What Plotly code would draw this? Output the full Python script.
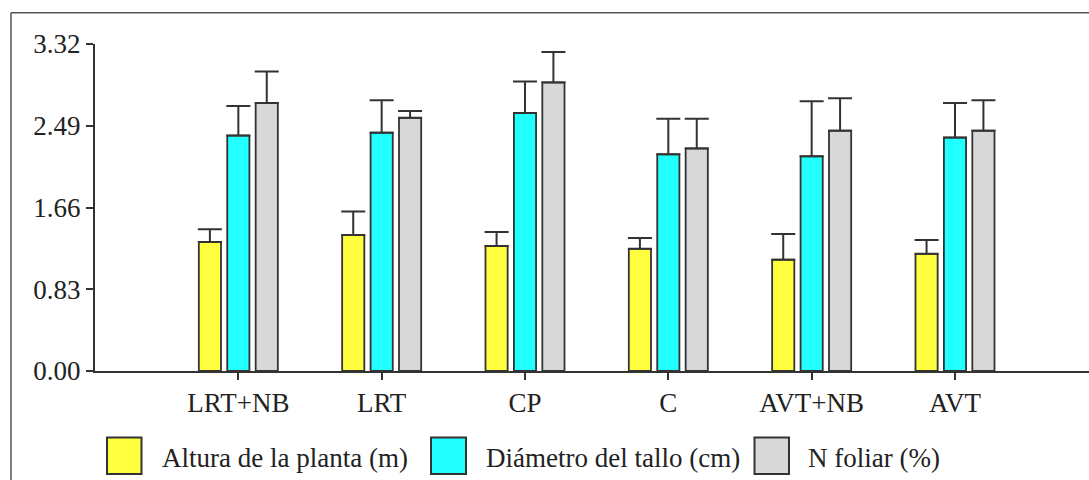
import plotly.graph_objects as go

categories = ["LRT+NB", "LRT", "CP", "C", "AVT+NB", "AVT"]
series_names = ["Altura de la planta (m)", "Diámetro del tallo (cm)", "N foliar (%)"]
altura = [1.31, 1.38, 1.27, 1.24, 1.13, 1.19]
altura_err = [0.13, 0.24, 0.14, 0.11, 0.26, 0.14]
diametro = [2.39, 2.42, 2.62, 2.20, 2.18, 2.37]
diametro_err = [0.30, 0.33, 0.32, 0.36, 0.56, 0.35]
nfoliar = [2.72, 2.57, 2.93, 2.26, 2.44, 2.44]
nfoliar_err = [0.32, 0.07, 0.31, 0.30, 0.33, 0.31]
y_ticks = [0.00, 0.83, 1.66, 2.49, 3.32]

colors = ["#FFFF3F", "#22FFFF", "#D8D8D8"]
values = [altura, diametro, nfoliar]
errors = [altura_err, diametro_err, nfoliar_err]

W, H = 1089, 480
ML, MR, MT, MB = 95, 0, 44, 109
FONT = "'Liberation Serif', 'Times New Roman', Times, 'DejaVu Serif', serif"
DARK = "#333333"

fig = go.Figure()
for name, vals, errs, col in zip(series_names, values, errors, colors):
    fig.add_trace(go.Bar(
        x=categories, y=vals, name=name,
        marker=dict(color=col, line=dict(color=DARK, width=1.8)),
        error_y=dict(type="data", array=errs, arrayminus=[0] * len(errs),
                     symmetric=False, color=DARK, thickness=2, width=12),
        showlegend=False,
    ))

pw = W - ML - MR
ph = H - MT - MB

def px_x(x):
    return (x - ML) / pw

def px_y(y):
    return (H - MB - y) / ph

shapes = []
annotations = []
# outer frame (top and left)
shapes.append(dict(type="line", xref="paper", yref="paper",
                   x0=px_x(11), x1=px_x(1095), y0=px_y(12.7), y1=px_y(12.7),
                   line=dict(color="#555555", width=1.5)))
shapes.append(dict(type="line", xref="paper", yref="paper",
                   x0=px_x(11), x1=px_x(11), y0=px_y(12.7), y1=px_y(485),
                   line=dict(color="#555555", width=1.5)))

# legend
legend_boxes = [(107, 141.5), (431, 466), (754.5, 789)]
legend_text_x = [160, 484, 806]
for (bx0, bx1), tx, name, col in zip(legend_boxes, legend_text_x, series_names, colors):
    shapes.append(dict(type="rect", xref="paper", yref="paper",
                       x0=px_x(bx0), x1=px_x(bx1), y0=px_y(474), y1=px_y(437.5),
                       fillcolor=col, line=dict(color=DARK, width=2)))
    annotations.append(dict(xref="paper", yref="paper", x=px_x(tx), y=px_y(458),
                            xanchor="left", yanchor="middle", showarrow=False,
                            text=name, font=dict(family=FONT, size=27, color="#222222")))

fig.update_layout(
    width=W, height=H,
    margin=dict(l=ML, r=MR, t=MT, b=MB, pad=0),
    paper_bgcolor="white", plot_bgcolor="white",
    barmode="group", bargap=0.405, bargroupgap=0.22,
    font=dict(family=FONT, size=27, color="#222222"),
    shapes=shapes, annotations=annotations,
    showlegend=False,
    xaxis=dict(
        type="category", range=[-1, 5.935],
        showline=True, linecolor=DARK, linewidth=2,
        ticks="outside", ticklen=7, tickwidth=2, tickcolor=DARK,
        showgrid=False, zeroline=False,
        tickfont=dict(family=FONT, size=27, color="#222222"),
    ),
    yaxis=dict(
        range=[0, 3.32], tickvals=y_ticks, tickformat=".2f",
        showline=True, linecolor=DARK, linewidth=2,
        ticks="outside", ticklen=7, tickwidth=2, tickcolor=DARK,
        showgrid=False, zeroline=False,
        tickfont=dict(family=FONT, size=27, color="#222222"),
    ),
)

fig.write_html("out.html")
